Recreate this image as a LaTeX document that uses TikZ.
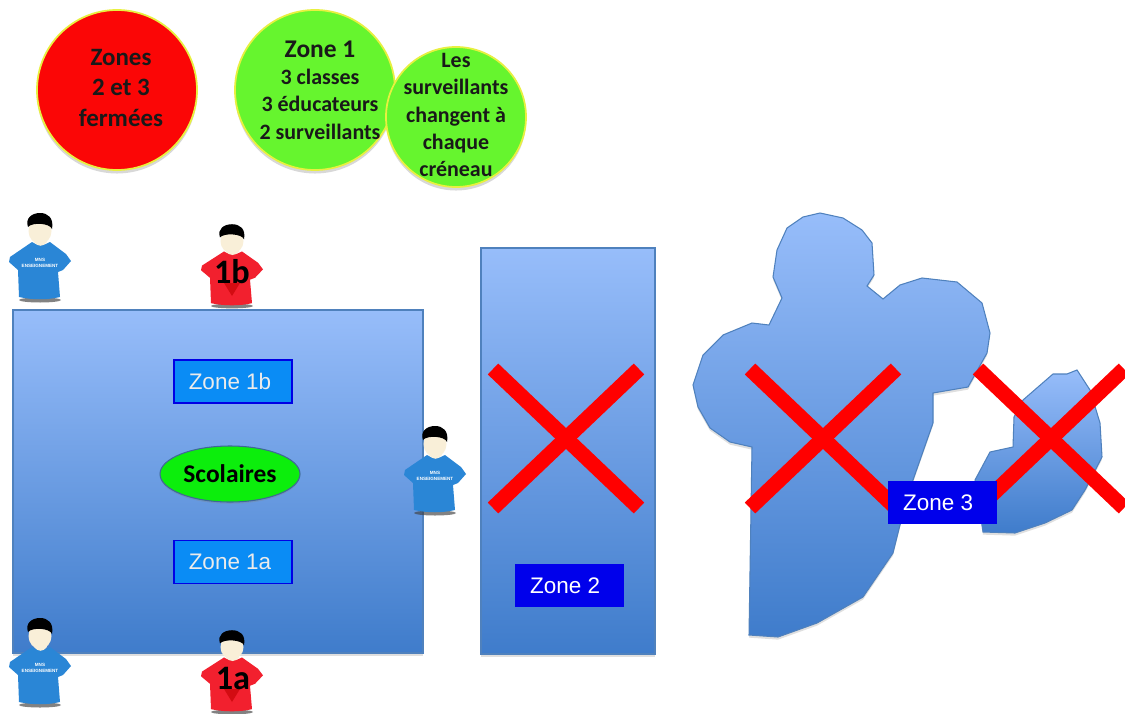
\documentclass[tikz,border=0pt]{standalone}
\usepackage{fontspec}
\setmainfont{Liberation Sans}
\newfontfamily\calibri{Carlito}[Scale=1]
\usepackage{xcolor}
\usetikzlibrary{calc,shapes,shapes.geometric,shadows}
\definecolor{zonetop}{HTML}{97BDFA}
\definecolor{zonebot}{HTML}{3F7CCB}
\definecolor{zoneline}{HTML}{4F81BD}
\definecolor{shirtblue}{HTML}{2A86D6}
\definecolor{shirtred}{HTML}{F2202E}
\definecolor{skin}{HTML}{F9EFD8}
\definecolor{bulgreen}{HTML}{66F52E}
\definecolor{bulred}{HTML}{FB0606}
\definecolor{bulyellow}{HTML}{E8F040}
\definecolor{labelblue}{HTML}{0A8CF5}
\definecolor{scolgreen}{HTML}{0CEE0C}
\tikzset{
  zonefill/.style={top color=zonetop,bottom color=zonebot,draw=zoneline,line width=.6pt,
    drop shadow={shadow xshift=0pt,shadow yshift=-1.5pt,opacity=.25}},
  bulle/.style={circle,draw=bulyellow,line width=1pt,inner sep=-14pt,align=center,
    font=\calibri\bfseries,text=black!90,
    drop shadow={shadow xshift=0pt,shadow yshift=-2pt,opacity=.3}},
  bulletxt/.style={align=center,inner sep=0pt,text=black!90},
  zonedark/.style={rectangle,fill=blue!92!black,text=white,minimum width=109*.02cm,minimum height=43*.02cm,
    inner sep=0pt,font=\fontsize{12.8}{14}\selectfont},
  zonelight/.style={rectangle,fill=labelblue,draw=blue!90!black,line width=.8pt,text=white!92!black,
    minimum width=118*.02cm,minimum height=43*.02cm,inner sep=0pt,font=\fontsize{12.8}{14}\selectfont},
  croix/.style={draw=red,line width=8.6pt},
  pics/surveillant/.style args={#1/#2}{code={
    \fill[black!75,opacity=.65] (0,0) ellipse (21 and 2.5);
    \fill[#1] (-8,-58) -- (-30,-43) -- (-31,-38) -- (-22,-30) -- (-21,-3) .. controls (-8,0) and (8,0) .. (20,-3)
      -- (18,-28) -- (23,-30) -- (31,-39) -- (26,-46) -- (10,-58) .. controls (4,-54) and (-3,-54) .. (-8,-58) -- cycle;
    \fill[skin] (-6,-58) .. controls (-2,-53) and (3,-53) .. (7,-58) -- (6,-68) -- (-5,-68) -- cycle;
    \fill[skin] (0,-69) ellipse (11.5 and 13);
    \fill[black] (-12,-73) .. controls (-15,-82) and (-8,-87) .. (0,-87)
      .. controls (8,-87) and (14,-82) .. (12,-71) .. controls (10,-77) and (-8,-78) .. (-12,-73) -- cycle;
    \node[text=white,font=\bfseries\fontsize{2.6}{3}\selectfont,align=center,inner sep=0pt] at (0,-37) {#2};
  }},
  numero/.style={text=black,font=\calibri\bfseries\fontsize{19.5}{19.5}\selectfont,inner sep=0pt}
}
\begin{document}
\begin{tikzpicture}[x=.02cm,y=-.02cm]
\useasboundingbox (0,0) rectangle (1125,713);
\fill[white] (0,0) rectangle (1125,713);

\path[zonefill] (13,310) rectangle (423,653);
\path[zonefill] (481,248) rectangle (655,654);
\path[zonefill] (820,213) -- (843,218) -- (862,230) -- (872,243) -- (874,275) -- (867,286) -- (883,299) -- (900,285)
  -- (922,278) -- (957,282) -- (982,303) -- (990,333) -- (987,353) -- (968,387) -- (933,393) -- (933,423) -- (913,480)
  -- (900,525) -- (893,553) -- (863,597) -- (817,623) -- (778,637) -- (749,635) -- (752,447) -- (730,442) -- (710,428)
  -- (698,407) -- (693,385) -- (703,355) -- (723,335) -- (752,323) -- (769,325) -- (782,298) -- (773,277) -- (777,250)
  -- (787,228) -- (803,217) -- cycle;
\path[zonefill] (1077,370) -- (1090,390) -- (1100,423) -- (1102,457) -- (1085,490) -- (1072,510) -- (1045,523)
  -- (1015,533) -- (983,532) -- (975,480) -- (990,452) -- (1013,447) -- (1014,417) -- (1023,400) -- (1053,374)
  -- (1067,374) -- cycle;

\foreach \cx in {566,823,1051} {
  \draw[croix] (\cx-73,369) -- (\cx+73,508);
  \draw[croix] (\cx-73,508) -- (\cx+73,369);
}

\node[bulle,fill=bulred,minimum size=160*.02cm] (fermees) at (117,90) {};
\node[bulletxt,font=\calibri\bfseries\fontsize{14.2}{17.2}\selectfont] (fermeestxt) at ($(fermees)+(4,-2)$) {Zones\\2 et 3\\fermées};
\node[bulle,fill=bulgreen,minimum size=160*.02cm] (zoneun) at (315,90) {};
\node[bulle,fill=bulgreen,minimum size=140*.02cm] (creneau) at (456,117) {};
\node[bulletxt,font=\calibri\bfseries\fontsize{12.5}{15.6}\selectfont] (creneautxt) at ($(creneau)+(0,-2)$) {Les\\surveillants\\changent à\\chaque\\créneau};
\node[bulletxt,font=\calibri\bfseries\fontsize{12.5}{15.6}\selectfont] (zoneuntxt) at ($(zoneun)+(5,0)$)
  {\fontsize{14.5}{15.6}\selectfont Zone 1\\\fontsize{12.5}{15.6}\selectfont 3 classes\\3 éducateurs\\2 surveillants};

\node[zonelight] (zone1b) at (233,381.5) {\raisebox{-1pt}{Zone 1b\hspace{3.4pt}}};
\node[zonelight] (zone1a) at (233,562) {\raisebox{-1pt}{Zone 1a\hspace{3.4pt}}};
\node[ellipse,fill=scolgreen,draw=zoneline!80!black,line width=.6pt,minimum width=140*.02cm,minimum height=56*.02cm,
  inner sep=0pt,font=\calibri\bfseries\fontsize{14.5}{15}\selectfont,drop shadow={shadow xshift=0pt,shadow yshift=-1pt,opacity=.3}] (scolaires) at (230,474) {\raisebox{-1.5pt}{Scolaires}};
\node[zonedark] (zone2) at (569.5,585.5) {\raisebox{-1pt}{Zone 2\hspace{5pt}}};
\node[zonedark] (zone3) at (942.5,502.5) {\raisebox{-1pt}{Zone 3\hspace{5pt}}};

\pic (survA) at (40,300) {surveillant={shirtblue/MNS\\ENSEIGNEMENT}};
\pic[yscale=.94] (survB) at (232,306) {surveillant={shirtred/}};
\fill[red!75!black,opacity=.6] (224,283) -- (240,283) -- (232,296) -- cycle;
\node[numero] (label1b) at (232,272) {1b};
\pic (survC) at (435,513) {surveillant={shirtblue/MNS\\ENSEIGNEMENT}};
\pic (survD) at (40,705) {surveillant={shirtblue/MNS\\ENSEIGNEMENT}};
\pic[yscale=.94] (survE) at (232,712) {surveillant={shirtred/}};
\fill[red!75!black,opacity=.6] (224,689) -- (240,689) -- (232,702) -- cycle;
\node[numero] (label1a) at (233,678) {1a};
\end{tikzpicture}
\end{document}
